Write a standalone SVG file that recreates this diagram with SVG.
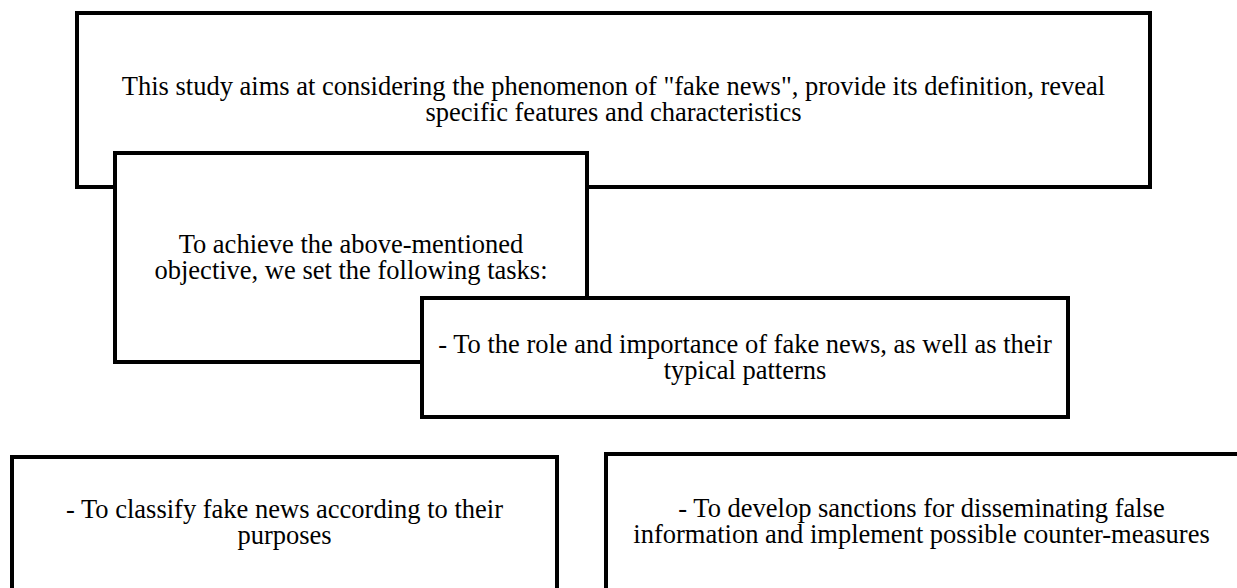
<svg xmlns="http://www.w3.org/2000/svg" width="1237" height="588" viewBox="0 0 1237 588">
<style>
.box{fill:#fff;stroke:#000;stroke-width:4}
.t{font-family:"Liberation Serif","Times New Roman",serif;font-size:26.5px;fill:#000;text-anchor:middle}
</style>
<rect width="1237" height="588" fill="#fff"/>
<g id="connectors"/>
<g id="n1">
<rect class="box" x="77" y="13" width="1073" height="174"/>
<text class="t" x="613.5" y="95">This study aims at considering the phenomenon of "fake news", provide its definition, reveal</text>
<text class="t" x="613.5" y="121">specific features and characteristics</text>
</g>
<g id="n2">
<rect class="box" x="115" y="153" width="472" height="209"/>
<text class="t" x="351" y="253">To achieve the above-mentioned</text>
<text class="t" x="351" y="279">objective, we set the following tasks:</text>
</g>
<g id="n3">
<rect class="box" x="422" y="298" width="646" height="119"/>
<text class="t" x="745" y="353">- To the role and importance of fake news, as well as their</text>
<text class="t" x="745" y="379">typical patterns</text>
</g>
<g id="n4">
<rect class="box" x="12" y="457" width="545" height="134"/>
<text class="t" x="284.5" y="518">- To classify fake news according to their</text>
<text class="t" x="284.5" y="544">purposes</text>
</g>
<g id="n5">
<rect class="box" x="606" y="454" width="634" height="137"/>
<text class="t" x="921.5" y="517">- To develop sanctions for disseminating false</text>
<text class="t" x="921.5" y="543">information and implement possible counter-measures</text>
</g>
</svg>
